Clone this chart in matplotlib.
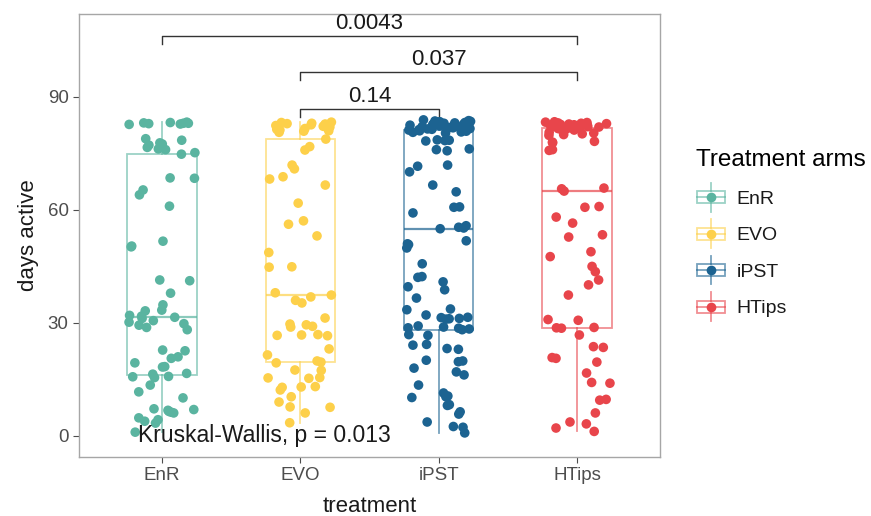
import matplotlib
matplotlib.use("Agg")
import matplotlib.pyplot as plt
import numpy as np
from matplotlib.legend_handler import HandlerBase
from matplotlib.patches import Rectangle
from matplotlib.lines import Line2D

plt.rcParams['font.family'] = ['Liberation Sans', 'DejaVu Sans']

groups = ["EnR", "EVO", "iPST", "HTips"]
colors = ["#5ab4a0", "#fdd04a", "#1c6391", "#e8454b"]

# days active per participant, by treatment arm
enr = [83.2, 83.0, 82.8, 83.1, 82.9, 83.3, 82.7, 83.0,
       78.5, 77.8, 77.2, 76.6, 78.9, 76.2, 77.5,
       76.0, 75.2, 74.8, 68.5, 68.4, 65.3, 64.0, 61.0,
       50.4, 50.2, 51.7, 41.4, 41.2, 37.9, 34.8, 33.4, 33.2,
       32.0, 31.8, 31.5, 31.2, 30.6, 30.2, 29.8, 29.4, 28.8, 28.2,
       22.8, 22.6, 20.6, 21.0, 19.4, 18.4, 18.3, 16.6, 16.4,
       15.8, 15.7, 15.5, 13.5, 11.7, 10.1,
       7.2, 7.0, 6.8, 6.5, 6.3, 6.1, 4.8, 4.3, 3.9, 3.4, 1.0]
evo = [83.3, 83.2, 83.0, 82.9, 82.8, 82.6, 82.4, 82.2, 82.0, 81.8,
       81.6, 81.4, 81.2, 81.0, 80.9, 80.6,
       78.8, 76.8, 75.9, 71.9, 70.9, 68.8, 68.2, 66.6, 61.8, 57.1,
       56.2, 53.1, 48.7, 44.9, 44.8,
       38.0, 37.4, 36.9, 36.0, 35.3, 31.3,
       29.7, 29.5, 29.1, 28.9, 26.8, 26.9, 26.6, 26.7, 23.1, 21.5,
       19.9, 19.6, 19.4, 17.5, 17.4, 15.4, 15.3, 15.5,
       13.0, 13.1, 12.9, 12.2, 10.4, 9.0, 7.7, 7.6, 6.1, 3.5]
ipst = [83.9, 83.7, 83.6, 83.5, 83.4, 83.3, 83.2, 83.1, 83.0, 82.9,
        82.8, 82.7, 82.6, 82.5, 82.4, 82.3, 82.2, 82.1, 82.0, 81.9,
        81.8, 81.7, 81.6, 81.5, 81.4, 81.3, 81.2, 81.0, 80.9, 80.7,
        80.6, 80.4,
        78.6, 78.4, 78.5, 78.3, 76.2, 76.0, 75.7, 71.9, 71.6,
        70.1, 66.6, 64.8, 60.8, 60.7, 59.2, 55.8, 55.4, 55.2, 55.0,
        51.8, 50.8, 51.0, 49.9, 45.7, 42.3, 42.1,
        40.9, 39.6, 38.8, 36.6, 33.7, 33.5, 32.1,
        31.5, 31.4, 31.2, 31.1, 31.0,
        29.2, 28.9, 28.7, 28.6, 28.4, 28.2, 26.9, 26.7, 24.3, 24.1,
        23.2, 23.0, 20.1, 19.9, 19.7, 18.0, 17.0, 16.2, 13.5, 11.4,
        10.6, 10.4, 10.2, 8.3, 8.1, 6.4, 5.8, 3.7, 2.5, 2.3, 0.8]
htips = [83.4, 83.3, 83.2, 83.1, 83.0, 82.9, 82.8, 82.7, 82.6, 82.5,
         82.4, 82.3, 82.2, 82.1, 82.0, 81.9, 81.8, 81.7, 81.6, 81.5,
         81.4, 81.2,
         80.6, 80.4, 80.2, 80.0, 79.8, 78.2, 78.0, 77.8, 76.0, 75.8,
         65.8, 65.6, 65.0, 60.9, 60.7, 58.1, 56.5, 53.4, 52.8, 48.9,
         47.6, 45.0, 43.6, 41.4, 40.1, 37.4, 30.9, 30.7,
         28.8, 28.7, 28.6, 26.8, 23.7, 23.5, 20.8, 20.6, 19.6, 16.7,
         14.2, 14.0, 9.7, 9.5, 6.1, 3.7, 3.2, 2.1, 1.2]
data = [enr, evo, ipst, htips]

# bracket comparisons: (from group, to group, height, label)
comparisons = [(1, 4, 106.2, "0.0043"), (2, 4, 96.6, "0.037"), (2, 3, 86.8, "0.14")]
kw_label = "Kruskal-Wallis, p = 0.013"

fig = plt.figure(figsize=(8.71, 5.16), dpi=100)
ax = fig.add_axes([0.0907, 0.1143, 0.667, 0.8585])

positions = np.arange(1, len(groups) + 1)
for pos, vals, col in zip(positions, data, colors):
    ax.boxplot(vals, positions=[pos], widths=0.5, whis=1.5, showfliers=False,
               showcaps=False, patch_artist=True,
               boxprops=dict(facecolor="none", edgecolor=col, linewidth=1.3, alpha=0.6),
               whiskerprops=dict(color=col, linewidth=1.3, alpha=0.6),
               medianprops=dict(color=col, linewidth=1.6, alpha=0.7))

rng = np.random.default_rng(7)
for pos, vals, col in zip(positions, data, colors):
    jitter = rng.uniform(-0.24, 0.24, len(vals))
    ax.scatter(pos + jitter, vals, s=48, color=col, edgecolors="none", zorder=3)

# pairwise brackets
for a, b, h, lab in comparisons:
    ax.plot([a, a, b, b], [h - 2.1, h, h, h - 2.1], color="#333333", lw=1.0)
    ax.text((a + b) / 2, h + 0.5, lab, ha="center", va="bottom", fontsize=16, color="#1a1a1a")

ax.text(0.83, 0, kw_label, ha="left", va="center", fontsize=16.5, color="#1a1a1a")

ax.set_xlim(0.4, 4.6)
ax.set_ylim(-5.6, 112)
ax.set_xticks(positions)
ax.set_xticklabels(groups)
ax.set_yticks([0, 30, 60, 90])
ax.tick_params(colors="#4d4d4d", labelsize=13.5, length=4, width=0.8)
for sp in ax.spines.values():
    sp.set_color("#a6a6a6")
    sp.set_linewidth(1.0)
ax.set_xlabel("treatment", fontsize=16, color="#1a1a1a", labelpad=8)
ax.set_ylabel("days active", fontsize=16, color="#1a1a1a", labelpad=6)


class BoxKey(HandlerBase):
    def create_artists(self, legend, orig_handle, xdescent, ydescent, width, height, fontsize, trans):
        col = orig_handle.get_color()
        cx = width / 2 - xdescent
        cy = height / 2 - ydescent
        bw, bh = width * 0.9, height * 0.6
        box = Rectangle((cx - bw / 2, cy - bh / 2), bw, bh, facecolor="none",
                        edgecolor=col, lw=1.3, alpha=0.6, transform=trans)
        wl = Line2D([cx, cx], [cy - height * 0.72, cy - bh / 2], color=col, lw=1.3, alpha=0.6, transform=trans)
        wu = Line2D([cx, cx], [cy + bh / 2, cy + height * 0.72], color=col, lw=1.3, alpha=0.6, transform=trans)
        med = Line2D([cx - bw / 2, cx + bw / 2], [cy, cy], color=col, lw=1.3, alpha=0.6, transform=trans)
        dot = Line2D([cx], [cy], marker="o", ms=7, color=col, mec="none", transform=trans)
        return [box, wl, wu, med, dot]


handles = [Line2D([], [], color=c) for c in colors]
leg = fig.legend(handles, groups, handler_map={Line2D: BoxKey()}, loc="center left",
                 bbox_to_anchor=(0.799, 0.548), frameon=False, fontsize=14,
                 title="Treatment arms", title_fontsize=17.5, alignment="left",
                 handlelength=1.6, handleheight=1.2, labelspacing=0.82, handletextpad=0.5,
                 borderaxespad=0, borderpad=0)
for t in leg.get_texts():
    t.set_color("#1a1a1a")

fig.savefig("out.png", dpi=100)
